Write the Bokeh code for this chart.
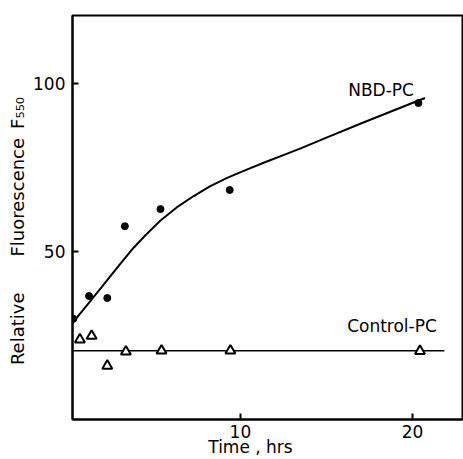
from bokeh.plotting import figure
from bokeh.models import Label, Range1d, FixedTicker
from bokeh.embed import file_html
from bokeh.resources import INLINE

# NBD-PC measured points (filled circles)
nbd_time = [0.30, 1.21, 2.27, 3.29, 5.36, 9.38, 20.34]
nbd_fluor = [30.0, 36.8, 36.2, 57.6, 62.7, 68.4, 94.3]

# NBD-PC fitted curve
curve_time = [0.26, 1.0, 2.0, 3.0, 3.8, 4.5, 5.36, 6.3, 7.29, 8.2, 9.23,
              10.3, 11.5, 12.5, 13.5, 15.0, 17.0, 19.0, 20.72]
curve_fluor = [28.8, 33.5, 39.8, 46.2, 51.2, 55.0, 59.3, 63.2, 66.6, 69.4, 72.0,
               74.3, 76.8, 78.8, 80.8, 84.0, 88.2, 92.3, 95.8]

# Control-PC measured points (open triangles)
ctl_time = [0.68, 1.36, 2.27, 3.35, 5.42, 9.42, 20.43]
ctl_fluor = [23.8, 24.9, 16.0, 20.2, 20.5, 20.5, 20.4]

# Control-PC baseline
ctl_line_time = [0.26, 21.85]
ctl_line_fluor = [20.5, 20.5]

x_ticks = [10, 20]
y_ticks = [50, 100]

FONT = "DejaVu Sans"

p = figure(width=463, height=459, output_backend="svg", toolbar_location=None,
           x_range=Range1d(0.25, 22.9), y_range=Range1d(0, 120.4),
           min_border_left=72, min_border_right=1, min_border_top=15,
           min_border_bottom=38)
p.grid.visible = False
p.background_fill_color = "white"
p.border_fill_color = "white"
p.outline_line_color = "black"
p.outline_line_width = 2

for ax in (p.xaxis[0], p.yaxis[0]):
    ax.axis_line_width = 2
    ax.axis_line_color = "black"
    ax.major_tick_in = 6
    ax.major_tick_out = 0
    ax.major_tick_line_width = 2
    ax.minor_tick_line_color = None
    ax.major_label_text_font = FONT
    ax.major_label_text_font_size = "17px"
    ax.major_label_text_color = "black"
    ax.axis_label_text_font = FONT
    ax.axis_label_text_font_style = "normal"
    ax.axis_label_text_color = "black"

p.xaxis.ticker = FixedTicker(ticks=x_ticks)
p.yaxis.ticker = FixedTicker(ticks=y_ticks)
p.xaxis.major_label_standoff = 5
p.yaxis.major_label_standoff = 7

p.xaxis.axis_label = "Time , hrs\u2003\u2003"
p.xaxis.axis_label_text_font_size = "17px"
p.xaxis.axis_label_standoff = -4
p.yaxis.axis_label = ("Relative\u2003\u2003Fluorescence\u2002F\u2085\u2085\u2080"
                      "\u2003\u2002")
p.yaxis.axis_label_text_font_size = "18px"
p.yaxis.axis_label_standoff = 2

# curves
p.line(curve_time, curve_fluor, line_color="black", line_width=2)
p.line(ctl_line_time, ctl_line_fluor, line_color="black", line_width=1.5)

p.scatter(nbd_time, nbd_fluor, marker="circle", size=7, fill_color="black",
          line_color="black")
p.scatter(ctl_time, ctl_fluor, marker="triangle", size=10, fill_color="white",
          line_color="black", line_width=2)

def lab(text, x, y, size="17px"):
    p.add_layout(Label(x=x, y=y, text=text, text_font=FONT, text_font_size=size,
                       text_color="black", text_align="left",
                       text_baseline="alphabetic"))

lab("NBD-PC", 16.26, 98.2)
lab("Control-PC", 16.2, 27.9)

open("out.html", "w").write(file_html(p, INLINE))
